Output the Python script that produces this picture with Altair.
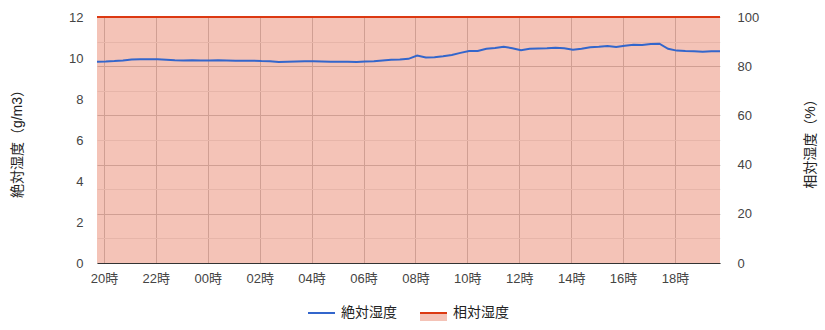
import altair as alt
import pandas as pd

# ---- data ----
start_time = "2024-01-01 19:44"
n_points = 73  # one reading every 20 minutes over 24 hours
abs_humidity = [
    9.82, 9.83, 9.85, 9.88, 9.93, 9.94, 9.94, 9.94, 9.92, 9.89,
    9.88, 9.89, 9.88, 9.88, 9.89, 9.88, 9.87, 9.86, 9.87, 9.85,
    9.84, 9.81, 9.82, 9.83, 9.84, 9.84, 9.83, 9.82, 9.82, 9.82,
    9.81, 9.83, 9.84, 9.88, 9.91, 9.93, 9.96, 10.12, 10.02, 10.04,
    10.08, 10.15, 10.25, 10.34, 10.34, 10.45, 10.49, 10.55, 10.48, 10.38,
    10.45, 10.46, 10.47, 10.50, 10.48, 10.40, 10.45, 10.52, 10.55, 10.59,
    10.54, 10.60, 10.65, 10.63, 10.68, 10.70, 10.45, 10.36, 10.34, 10.33,
    10.30, 10.33, 10.33,
]
rel_humidity = [100] * n_points
series_names = ["絶対湿度", "相対湿度"]
left_title = "絶対湿度（g/m3）"
right_title = "相対湿度（%）"
hour_ticks = [20, 22, 0, 2, 4, 6, 8, 10, 12, 14, 16, 18]

times = pd.date_range(start_time, periods=n_points, freq="20min").strftime("%Y-%m-%dT%H:%M:%S")
df = pd.DataFrame({"time": times, "ah": abs_humidity, "rh": rel_humidity})

FONT = "Liberation Sans, Arial, Noto Sans CJK JP"
BLUE = "#3366cc"
RED = "#dc3912"

tick_values = [
    alt.DateTime(year=2024, month=1, date=(1 if h >= 20 else 2), hours=h)
    for h in hour_ticks
]
x_domain = [
    alt.DateTime(year=2024, month=1, date=1, hours=19, minutes=44),
    alt.DateTime(year=2024, month=1, date=2, hours=19, minutes=44),
]

x_enc = alt.X(
    "time:T",
    scale=alt.Scale(domain=x_domain),
    axis=alt.Axis(
        values=tick_values, format="%H時", title=None, labelColor="#444",
        labelFontSize=13, labelFont=FONT, labelPadding=9, ticks=False,
        domainColor="#333", domainWidth=1, grid=True, gridColor="#cccccc",
        labelFlush=False, labelOverlap=False,
    ),
)

area = alt.Chart(df).mark_area(
    color=RED, opacity=0.3, line={"color": RED, "strokeWidth": 2, "opacity": 1}
).encode(
    x=x_enc,
    y=alt.Y(
        "rh:Q",
        scale=alt.Scale(domain=[0, 100], nice=False),
        axis=alt.Axis(
            orient="right", values=list(range(0, 101, 10)),
            labelExpr="datum.value % 20 == 0 ? datum.label : ''",
            title=right_title, titleAngle=-90, titleX=90, titleY=123,
            titleAlign="center", titleBaseline="middle",
            titleFontWeight="normal", titleFontSize=14, titleColor="#222", titleFont=FONT,
            labelColor="#444", labelFontSize=13, labelFont=FONT, labelPadding=17,
            ticks=False, domain=False, labelAlign="left",
            gridColor=alt.condition("datum.value % 20 == 0", alt.value("#cccccc"), alt.value("#ebebeb")),
        ),
    ),
)

line = alt.Chart(df).mark_line(color=BLUE, strokeWidth=2).encode(
    x=x_enc,
    y=alt.Y(
        "ah:Q",
        scale=alt.Scale(domain=[0, 12], nice=False),
        axis=alt.Axis(
            orient="left", values=list(range(0, 13)),
            labelExpr="datum.value % 2 == 0 ? datum.label : ''",
            title=left_title, titleAngle=-90, titleX=-80, titleY=123,
            titleAlign="center", titleBaseline="middle",
            titleFontWeight="normal", titleFontSize=14, titleColor="#222", titleFont=FONT,
            labelColor="#444", labelFontSize=13, labelFont=FONT, labelPadding=14,
            ticks=False, domain=False, labelAlign="right",
            gridColor=alt.condition("datum.value % 2 == 0", alt.value("#cccccc"), alt.value("#ebebeb")),
        ),
    ),
)

one = pd.DataFrame({"k": [0]})
leg_blue = alt.Chart(one).mark_rule(color=BLUE, strokeWidth=2).encode(
    x=alt.value(211), x2=alt.value(238), y=alt.value(296))
leg_blue_t = alt.Chart(one).mark_text(
    align="left", baseline="middle", font=FONT, fontSize=14, color="#222"
).encode(x=alt.value(244), y=alt.value(296), text=alt.value(series_names[0]))
leg_red_fill = alt.Chart(one).mark_rect(color=RED, opacity=0.3).encode(
    x=alt.value(323), x2=alt.value(350), y=alt.value(296), y2=alt.value(304))
leg_red = alt.Chart(one).mark_rule(color=RED, strokeWidth=2).encode(
    x=alt.value(323), x2=alt.value(350), y=alt.value(296))
leg_red_t = alt.Chart(one).mark_text(
    align="left", baseline="middle", font=FONT, fontSize=14, color="#222"
).encode(x=alt.value(356), y=alt.value(296), text=alt.value(series_names[1]))

chart = alt.layer(
    area, line, leg_blue, leg_blue_t, leg_red_fill, leg_red, leg_red_t
).resolve_scale(y="independent").properties(
    width=623, height=246,
    autosize=alt.AutoSizeParams(type="none"),
    padding={"left": 97, "top": 17, "right": 105, "bottom": 67},
    background="white",
).configure_view(stroke=None)

chart.save("out.html", embed_options={"renderer": "svg", "actions": False})
